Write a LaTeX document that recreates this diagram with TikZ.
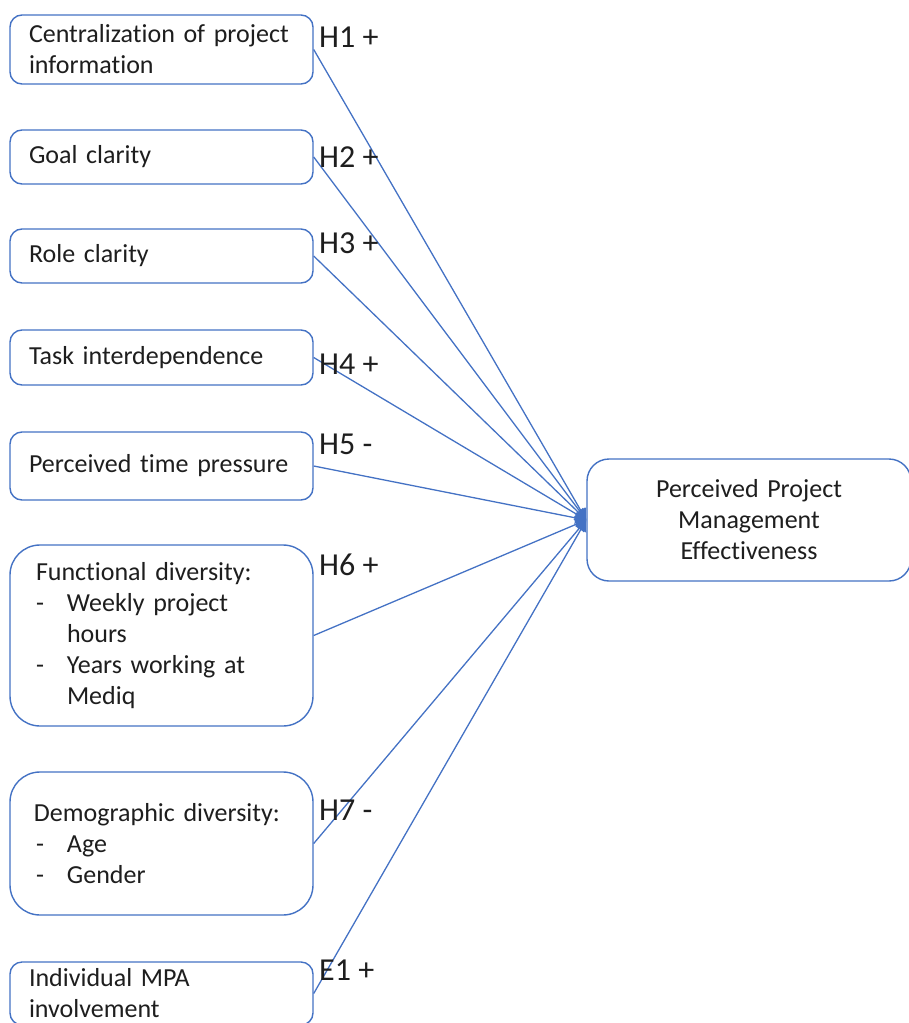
\documentclass[tikz,border=0pt]{standalone}
\usepackage{fontspec}
\setmainfont[RawFeature={-liga;-dlig;-clig}]{Carlito}
\usetikzlibrary{arrows.meta}
\definecolor{wblue}{HTML}{4472C4}
\definecolor{wtext}{HTML}{1E1E1E}
\tikzset{
  box/.style={draw=wblue, line width=1.4pt, fill=white, text=wtext, align=left,
    font=\fontsize{26}{31}\selectfont, inner ysep=0pt, rounded corners=12pt},
  lbl/.style={anchor=west, text=wtext, font=\fontsize{32}{36}\selectfont, inner sep=0pt},
  conn/.style={draw=wblue, line width=1.3pt, -{Latex[length=11pt,width=13pt]}},
}
\newcommand{\itm}[1]{\makebox[31pt][l]{-}#1}
\newcommand{\cnt}[1]{\hspace*{31pt}#1}
\begin{document}
\begin{tikzpicture}[x=1pt,y=-1pt]
\useasboundingbox (0,0) rectangle (909,1023);
\clip (0,0) rectangle (909,1023);
% left boxes
\node[box, minimum width=303pt, minimum height=69pt, text width=265pt, inner xsep=19pt] (b1) at (161.5,49.5) {Centralization of project\\information};
\node[box, minimum width=303pt, minimum height=54pt, text width=265pt, inner xsep=19pt] (b2) at (161.5,157) {Goal clarity};
\node[box, minimum width=303pt, minimum height=54pt, text width=265pt, inner xsep=19pt] (b3) at (161.5,256) {Role clarity};
\node[box, minimum width=303pt, minimum height=55pt, text width=265pt, inner xsep=19pt] (b4) at (161.5,357.5) {Task interdependence};
\node[box, minimum width=303pt, minimum height=68pt, text width=265pt, inner xsep=19pt] (b5) at (161.5,466) {Perceived time pressure};
\node[box, rounded corners=30pt, minimum width=303pt, minimum height=181pt, text width=251pt, inner xsep=26pt] (b6) at (161.5,635.5) {Functional diversity:\\\itm{Weekly project}\\\cnt{hours}\\\itm{Years working at}\\\cnt{Mediq}};
\node[box, rounded corners=30pt, minimum width=303pt, minimum height=143pt, text width=255pt, inner xsep=24pt] (b7) at (161.5,843.5) {Demographic diversity:\\\hspace*{2pt}\itm{Age}\\\hspace*{2pt}\itm{Gender}};
\node[box, minimum width=303pt, minimum height=63pt, text width=265pt, inner xsep=19pt] (b8) at (161.5,993.5) {Individual MPA\\involvement};
% target
\node[box, align=center, rounded corners=22pt, minimum width=324pt, minimum height=122pt, text width=300pt] (t) at (749,520) {Perceived Project\\Management\\Effectiveness};
\coordinate (hub) at (t.west);
% connectors
\foreach \b in {b1,b2,b3,b4,b5,b6,b7,b8}{
  \draw[conn] (\b.east) -- (hub);
}
% labels
\node[lbl] (l1) at (319,37) {H1 +};
\node[lbl] (l2) at (319,157) {H2 +};
\node[lbl] (l3) at (319,243) {H3 +};
\node[lbl] (l4) at (319,364) {H4 +};
\node[lbl] (l5) at (319,444) {H5 -};
\node[lbl] (l6) at (319,565) {H6 +};
\node[lbl] (l7) at (319,810) {H7 -};
\node[lbl] (l8) at (319,970) {E1 +};
\end{tikzpicture}
\end{document}
